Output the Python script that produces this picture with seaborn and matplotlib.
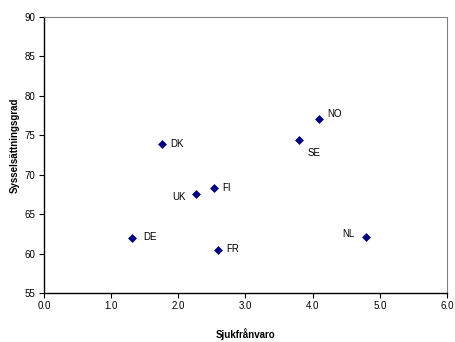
import matplotlib
matplotlib.use("Agg")
import matplotlib.pyplot as plt
import seaborn as sns
import pandas as pd

# Sickness absence vs. employment rate by country
countries = ["DK", "NO", "SE", "UK", "FI", "DE", "FR", "NL"]
sjukfranvaro = [1.76, 4.09, 3.79, 2.26, 2.53, 1.31, 2.59, 4.79]
sysselsattning = [73.9, 77.1, 74.4, 67.5, 68.3, 62.0, 60.5, 62.1]

# label offsets in pixels (dx, dy) and horizontal alignment per country
label_offsets = {
    "DK": (8, 0, "left"),
    "NO": (9, 5, "left"),
    "SE": (9, -13, "left"),
    "UK": (-10, -3, "right"),
    "FI": (8, 0, "left"),
    "DE": (11, 1, "left"),
    "FR": (8, 1, "left"),
    "NL": (-11, 3, "right"),
}

df = pd.DataFrame({"land": countries, "x": sjukfranvaro, "y": sysselsattning})

sns.set_theme(style="white")
plt.rcParams["font.family"] = ["Liberation Sans", "DejaVu Sans"]
plt.rcParams.update({
    "text.color": "black",
    "axes.labelcolor": "black",
    "xtick.color": "black",
    "ytick.color": "black",
})

fig = plt.figure(figsize=(4.56, 3.42), dpi=100)
ax = fig.add_axes([44 / 456, 1 - 293 / 342, (447 - 44) / 456, (293 - 17) / 342])

sns.scatterplot(data=df, x="x", y="y", ax=ax, marker="D", s=16,
                color="#000080", edgecolor="#000080", linewidth=0.5, zorder=3)

for name, xv, yv in zip(countries, sjukfranvaro, sysselsattning):
    dx, dy, ha = label_offsets[name]
    ax.annotate(name, (xv, yv), xytext=(dx, dy), textcoords="offset pixels",
                ha=ha, va="center", fontsize=7, color="black")

ax.set_xlim(0, 6)
ax.set_ylim(55, 90)
ax.set_xticks([0, 1, 2, 3, 4, 5, 6])
ax.set_xticklabels([f"{v:.1f}" for v in range(7)])
ax.set_yticks(range(55, 95, 5))

ax.tick_params(axis="both", which="major", direction="out", length=3.5,
               width=0.8, color="black", labelcolor="black", labelsize=7,
               pad=2.5, bottom=True, left=True)

for side in ["left", "bottom"]:
    ax.spines[side].set_color("black")
    ax.spines[side].set_linewidth(1.0)
for side in ["top", "right"]:
    ax.spines[side].set_color("#808080")
    ax.spines[side].set_linewidth(0.8)

ax.set_xlabel("Sjukfrånvaro", fontsize=7, fontweight="bold", color="black")
ax.set_ylabel("Sysselsättningsgrad", fontsize=7, fontweight="bold", color="black")
ax.xaxis.set_label_coords(0.5, -0.127)
ax.yaxis.set_label_coords(-0.06, 0.535)

fig.savefig("out.png", dpi=100)
